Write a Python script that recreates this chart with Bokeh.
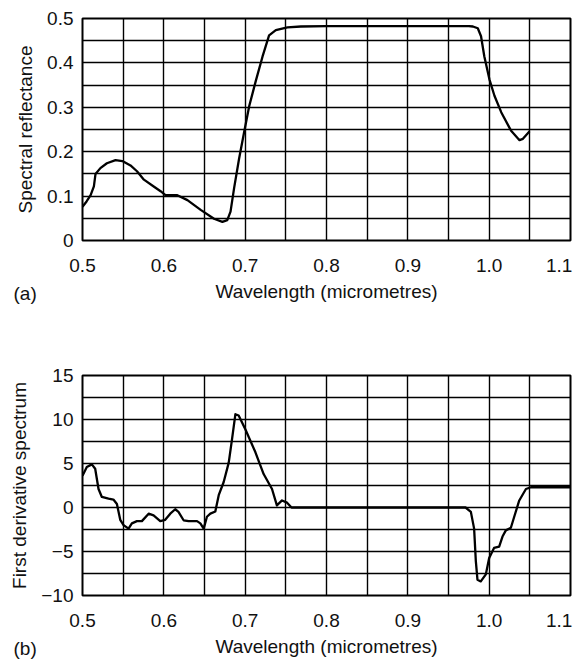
import numpy as np
from bokeh.plotting import figure
from bokeh.layouts import column
from bokeh.models import Range1d, FixedTicker, Title
from bokeh.embed import file_html
from bokeh.resources import INLINE

# ---- data ----
wl_a = [0.500, 0.505, 0.510, 0.514, 0.516, 0.522, 0.530, 0.5406, 0.549, 0.559, 0.567,
        0.5755, 0.588, 0.596, 0.602, 0.6166, 0.629, 0.6453, 0.6617, 0.672, 0.678,
        0.682, 0.6864, 0.6925, 0.6987, 0.705, 0.713, 0.7213, 0.7294, 0.7377, 0.752,
        0.7685, 0.80, 0.85, 0.90, 0.95, 0.975, 0.980, 0.986, 0.990, 0.994, 1.0003,
        1.0065, 1.0148, 1.027, 1.0373, 1.0415, 1.0497]
refl_a = [0.076, 0.088, 0.102, 0.122, 0.150, 0.163, 0.174, 0.181, 0.179, 0.169, 0.156,
          0.137, 0.121, 0.111, 0.102, 0.102, 0.091, 0.069, 0.049, 0.042, 0.046,
          0.065, 0.118, 0.184, 0.244, 0.303, 0.359, 0.414, 0.462, 0.474, 0.480,
          0.482, 0.483, 0.483, 0.483, 0.483, 0.483, 0.482, 0.478, 0.460, 0.415, 0.363,
          0.326, 0.289, 0.247, 0.226, 0.229, 0.246]

wl_b = [0.500, 0.5053, 0.5115, 0.5156, 0.5197, 0.5238, 0.532, 0.538, 0.5423, 0.5464,
        0.5505, 0.5566, 0.5607, 0.5669, 0.573, 0.5813, 0.5874, 0.5956, 0.6017, 0.6079,
        0.614, 0.618, 0.6243, 0.6305, 0.6408, 0.6449, 0.649, 0.653, 0.6572, 0.6633,
        0.6675, 0.6736, 0.6798, 0.6839, 0.688, 0.692, 0.7002, 0.7125, 0.7227, 0.733,
        0.739, 0.7453, 0.7515, 0.757, 0.80, 0.90, 0.971, 0.9775, 0.9815, 0.9836,
        0.9856, 0.9897, 0.9959, 1.000, 1.006, 1.0123, 1.0164, 1.0205, 1.0267, 1.0308,
        1.037, 1.0452, 1.0513, 1.08, 1.10]
deriv_b = [3.6, 4.6, 4.9, 4.4, 2.1, 1.2, 1.0, 0.9, 0.4, -1.4,
           -2.0, -2.4, -1.8, -1.55, -1.55, -0.7, -0.9, -1.55, -1.4, -0.7,
           -0.2, -0.5, -1.45, -1.55, -1.55, -1.8, -2.4, -1.05, -0.7, -0.45,
           1.4, 2.9, 5.1, 7.8, 10.6, 10.45, 8.9, 6.3, 3.8, 2.1,
           0.25, 0.8, 0.55, 0.0, 0.0, 0.0, 0.0, -0.5, -2.4, -6.1,
           -8.2, -8.4, -7.6, -5.75, -4.6, -4.45, -3.3, -2.6, -2.3, -1.05,
           0.8, 2.1, 2.3, 2.3, 2.3]

# tick values and labels (the last label is drawn just inside the right edge)
x_ticks = [0.5, 0.6, 0.7, 0.8, 0.9, 1.0, 1.086]
x_tick_labels = ["0.5", "0.6", "0.7", "0.8", "0.9", "1.0", "1.1"]

ya_ticks = [0, 0.1, 0.2, 0.3, 0.4, 0.5]
ya_tick_labels = ["0", "0.1", "0.2", "0.3", "0.4", "0.5"]
yb_ticks = [-10, -5, 0, 5, 10, 15]
yb_tick_labels = ["\u221210", "\u22125", "0", "5", "10", "15"]

x_label = "Wavelength (micrometres)"
ya_label = "Spectral reflectance"
yb_label = "First derivative spectrum"

FONT = "Liberation Sans"
FS = "19px"
TXT = "#111111"


def make_fig(w, h, bl, br, bt, bb, yr, yticks, ylabels, ygrid_step, ylabel, panel):
    p = figure(width=w, height=h, output_backend="svg", toolbar_location=None,
               x_range=Range1d(0.5, 1.1), y_range=Range1d(*yr),
               min_border_left=bl, min_border_right=br, min_border_top=bt,
               min_border_bottom=bb)
    p.background_fill_color = "white"
    p.border_fill_color = "white"
    p.outline_line_color = "black"
    p.outline_line_width = 2

    p.xaxis.ticker = FixedTicker(ticks=x_ticks)
    p.xaxis.major_label_overrides = dict(zip(x_ticks, x_tick_labels))
    p.yaxis.ticker = FixedTicker(ticks=yticks)
    p.yaxis.major_label_overrides = dict(zip(yticks, ylabels))

    for ax in (p.xaxis[0], p.yaxis[0]):
        ax.axis_line_color = None
        ax.major_tick_line_color = None
        ax.minor_tick_line_color = None
        ax.major_tick_out = 0
        ax.major_tick_in = 0
        ax.major_label_text_font = FONT
        ax.major_label_text_font_size = FS
        ax.major_label_text_color = TXT
        ax.axis_label_text_font = FONT
        ax.axis_label_text_font_size = FS
        ax.axis_label_text_font_style = "normal"
        ax.axis_label_text_color = TXT
    p.xaxis.major_label_standoff = 18
    p.xaxis.axis_label_standoff = 6
    p.yaxis.major_label_standoff = 9
    p.yaxis.axis_label_standoff = 8
    p.xaxis.axis_label = x_label
    p.yaxis.axis_label = ylabel

    xg = np.round(np.arange(0.5, 1.1001, 0.05), 3).tolist()
    yg = np.round(np.arange(yr[0], yr[1] + ygrid_step / 10, ygrid_step), 3).tolist()
    p.xgrid.ticker = FixedTicker(ticks=xg)
    p.ygrid.ticker = FixedTicker(ticks=yg)
    for g in (p.xgrid[0], p.ygrid[0]):
        g.grid_line_color = "black"
        g.grid_line_width = 1.4
        g.grid_line_alpha = 1.0

    # panel letter, drawn on the same row as the x-axis label
    t = Title(text=panel, align="left", offset=-(bl - 13), standoff=-44,
              vertical_align="top", text_font=FONT, text_font_size=FS,
              text_font_style="normal", text_color=TXT)
    p.add_layout(t, "below")
    return p


p1 = make_fig(574, 310, 82, 4, 18, 70, (0, 0.5), ya_ticks, ya_tick_labels, 0.05,
              ya_label, "(a)")
p1.line(wl_a, refl_a, line_color="black", line_width=2.3, line_join="round")

p2 = make_fig(574, 355, 82, 4, 65, 70, (-10, 15), yb_ticks, yb_tick_labels, 2.5,
              yb_label, "(b)")
p2.line(wl_b, deriv_b, line_color="black", line_width=2.3, line_join="round")

layout = column(p1, p2, spacing=0)
open("out.html", "w").write(file_html(layout, INLINE))
